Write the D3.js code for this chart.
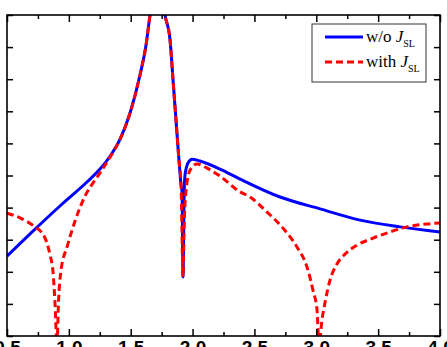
<!DOCTYPE html>
<html>
<head>
<meta charset="utf-8">
<script src="https://cdnjs.cloudflare.com/ajax/libs/d3/7.8.5/d3.min.js"></script>
<style>
  body { margin: 0; background: #fff; }
  svg { display: block; }
</style>
</head>
<body>
<div id="chart"><svg></svg></div>
<script>
// values (y in arbitrary units, no labels on the y axis)
const xTicks = [0.5, 1.0, 1.5, 2.0, 2.5, 3.0, 3.5, 4.0];
const xMinorTicks = [0.75, 1.25, 1.75, 2.25, 2.75, 3.25, 3.75];
const yTicks = [0, 1, 2, 3, 4, 5, 6, 7, 8, 9, 10];

const woX = [0.500, 0.686, 0.928, 1.155, 1.252, 1.333, 1.414, 1.494, 1.575, 1.624, 1.656, 1.680, 1.721, 1.753, 1.777,
  1.818, 1.842, 1.866, 1.890, 1.907, 1.915, 1.923, 1.931, 1.939, 1.963, 1.996, 2.060, 2.222, 2.384, 2.707, 3.030,
  3.354, 3.677, 4.000];
const woY = [2.49, 3.18, 4.05, 4.83, 5.20, 5.60, 6.13, 6.94, 8.13, 9.07, 10.0, 10.6, 10.8, 10.6, 10.0,
  9.22, 7.98, 6.73, 5.48, 4.70, 4.49, 1.84, 4.24, 5.02, 5.39, 5.51, 5.45, 5.20, 4.89, 4.33, 3.96,
  3.61, 3.40, 3.24];

const withX = [0.500, 0.605, 0.726, 0.783, 0.823, 0.848, 0.872, 0.888, 0.904, 0.916, 0.937, 0.985, 1.050, 1.131, 1.187,
  1.252, 1.333, 1.414, 1.494, 1.575, 1.624, 1.656, 1.680, 1.721, 1.753, 1.777, 1.818, 1.842, 1.866, 1.890, 1.907,
  1.923, 1.931, 1.948, 1.980, 2.036, 2.117, 2.222, 2.384, 2.464, 2.602, 2.731, 2.844, 2.925, 2.973, 3.006, 3.022,
  3.046, 3.070, 3.111, 3.167, 3.232, 3.329, 3.459, 3.596, 3.734, 3.895, 4.000];
const withY = [3.83, 3.68, 3.40, 3.21, 2.90, 2.52, 1.99, 1.03, -0.28, 1.03, 2.06, 2.77, 3.58, 4.36, 4.72,
  5.08, 5.57, 6.13, 6.94, 8.13, 9.07, 10.0, 10.6, 10.8, 10.6, 10.0, 9.22, 7.98, 6.73, 5.48, 4.70,
  1.84, 3.30, 4.55, 5.17, 5.36, 5.23, 4.98, 4.49, 4.33, 3.86, 3.36, 2.77, 2.15, 1.43, 0.81, -0.28,
  0.50, 1.03, 1.74, 2.24, 2.55, 2.83, 3.05, 3.24, 3.40, 3.49, 3.52];

const seriesNames = ['w/o', 'with'];

const width = 447, height = 347;
const margin = {top: 15, right: 7, bottom: 11, left: 7};

const svg = d3.select('#chart').select('svg')
  .attr('width', width)
  .attr('height', height);

const x = d3.scaleLinear().domain([0.5, 4.0]).range([margin.left, width - margin.right]);
const y = d3.scaleLinear().domain([0, 10]).range([height - margin.bottom, margin.top]);

svg.append('clipPath').attr('id', 'plotClip')
  .append('rect')
  .attr('x', margin.left).attr('y', margin.top)
  .attr('width', width - margin.left - margin.right)
  .attr('height', height - margin.top - margin.bottom);

const line = d3.line()
  .x(d => x(d[0]))
  .y(d => y(d[1]))
  .curve(d3.curveMonotoneX);

const woData = woX.map((v, i) => [v, woY[i]]);
const withData = withX.map((v, i) => [v, withY[i]]);

const plot = svg.append('g').attr('clip-path', 'url(#plotClip)');

plot.append('path')
  .datum(woData)
  .attr('fill', 'none')
  .attr('stroke', '#0000ff')
  .attr('stroke-width', 3)
  .attr('d', line);

plot.append('path')
  .datum(withData)
  .attr('fill', 'none')
  .attr('stroke', '#ff0000')
  .attr('stroke-width', 3)
  .attr('stroke-dasharray', '7,4')
  .attr('d', line);

// axes, ticks pointing inward
const bottom = svg.append('g')
  .attr('transform', 'translate(0,' + (height - margin.bottom) + ')')
  .call(d3.axisBottom(x).tickValues(xTicks).tickFormat(d3.format('.1f'))
    .tickSizeInner(-7).tickSizeOuter(0).tickPadding(5));
bottom.selectAll('text')
  .attr('font-family', "'Liberation Sans', Arial, sans-serif")
  .attr('font-size', 19)
  .attr('font-weight', 'bold')
  .attr('fill', '#000');

svg.append('g')
  .attr('transform', 'translate(0,' + (height - margin.bottom) + ')')
  .call(d3.axisBottom(x).tickValues(xMinorTicks).tickFormat('').tickSizeInner(-4).tickSizeOuter(0));

svg.append('g')
  .attr('transform', 'translate(0,' + margin.top + ')')
  .call(d3.axisTop(x).tickValues(xTicks).tickFormat('').tickSizeInner(-7).tickSizeOuter(0));
svg.append('g')
  .attr('transform', 'translate(0,' + margin.top + ')')
  .call(d3.axisTop(x).tickValues(xMinorTicks).tickFormat('').tickSizeInner(-4).tickSizeOuter(0));

svg.append('g')
  .attr('transform', 'translate(' + margin.left + ',0)')
  .call(d3.axisLeft(y).tickValues(yTicks).tickFormat('').tickSizeInner(-6).tickSizeOuter(0));
svg.append('g')
  .attr('transform', 'translate(' + (width - margin.right) + ',0)')
  .call(d3.axisRight(y).tickValues(yTicks).tickFormat('').tickSizeInner(-6).tickSizeOuter(0));

svg.selectAll('.domain').remove();
svg.selectAll('.tick line').attr('stroke', '#000').attr('stroke-width', 1.5);

svg.append('rect')
  .attr('x', margin.left).attr('y', margin.top)
  .attr('width', width - margin.left - margin.right)
  .attr('height', height - margin.top - margin.bottom)
  .attr('fill', 'none')
  .attr('stroke', '#000')
  .attr('stroke-width', 1.6);

// legend
const legend = svg.append('g').attr('transform', 'translate(312,24)');
legend.append('rect')
  .attr('width', 114).attr('height', 58)
  .attr('fill', '#fff').attr('stroke', '#333').attr('stroke-width', 1);

const legStyles = [
  {stroke: '#0000ff', dash: null},
  {stroke: '#ff0000', dash: '7,4'}
];
seriesNames.forEach((name, i) => {
  const gy = 13 + i * 25;
  legend.append('line')
    .attr('x1', 13).attr('x2', 51)
    .attr('y1', gy).attr('y2', gy)
    .attr('stroke', legStyles[i].stroke)
    .attr('stroke-width', 3)
    .attr('stroke-dasharray', legStyles[i].dash);
  const t = legend.append('text')
    .attr('x', 54).attr('y', gy + 5)
    .attr('font-family', "'Liberation Serif', 'Times New Roman', serif")
    .attr('font-size', 17)
    .attr('fill', '#000');
  t.append('tspan').text(name + ' ');
  t.append('tspan').attr('font-style', 'italic').text('J');
  t.append('tspan').attr('font-size', 10).attr('dy', 5).text('SL');
});
</script>
</body>
</html>
